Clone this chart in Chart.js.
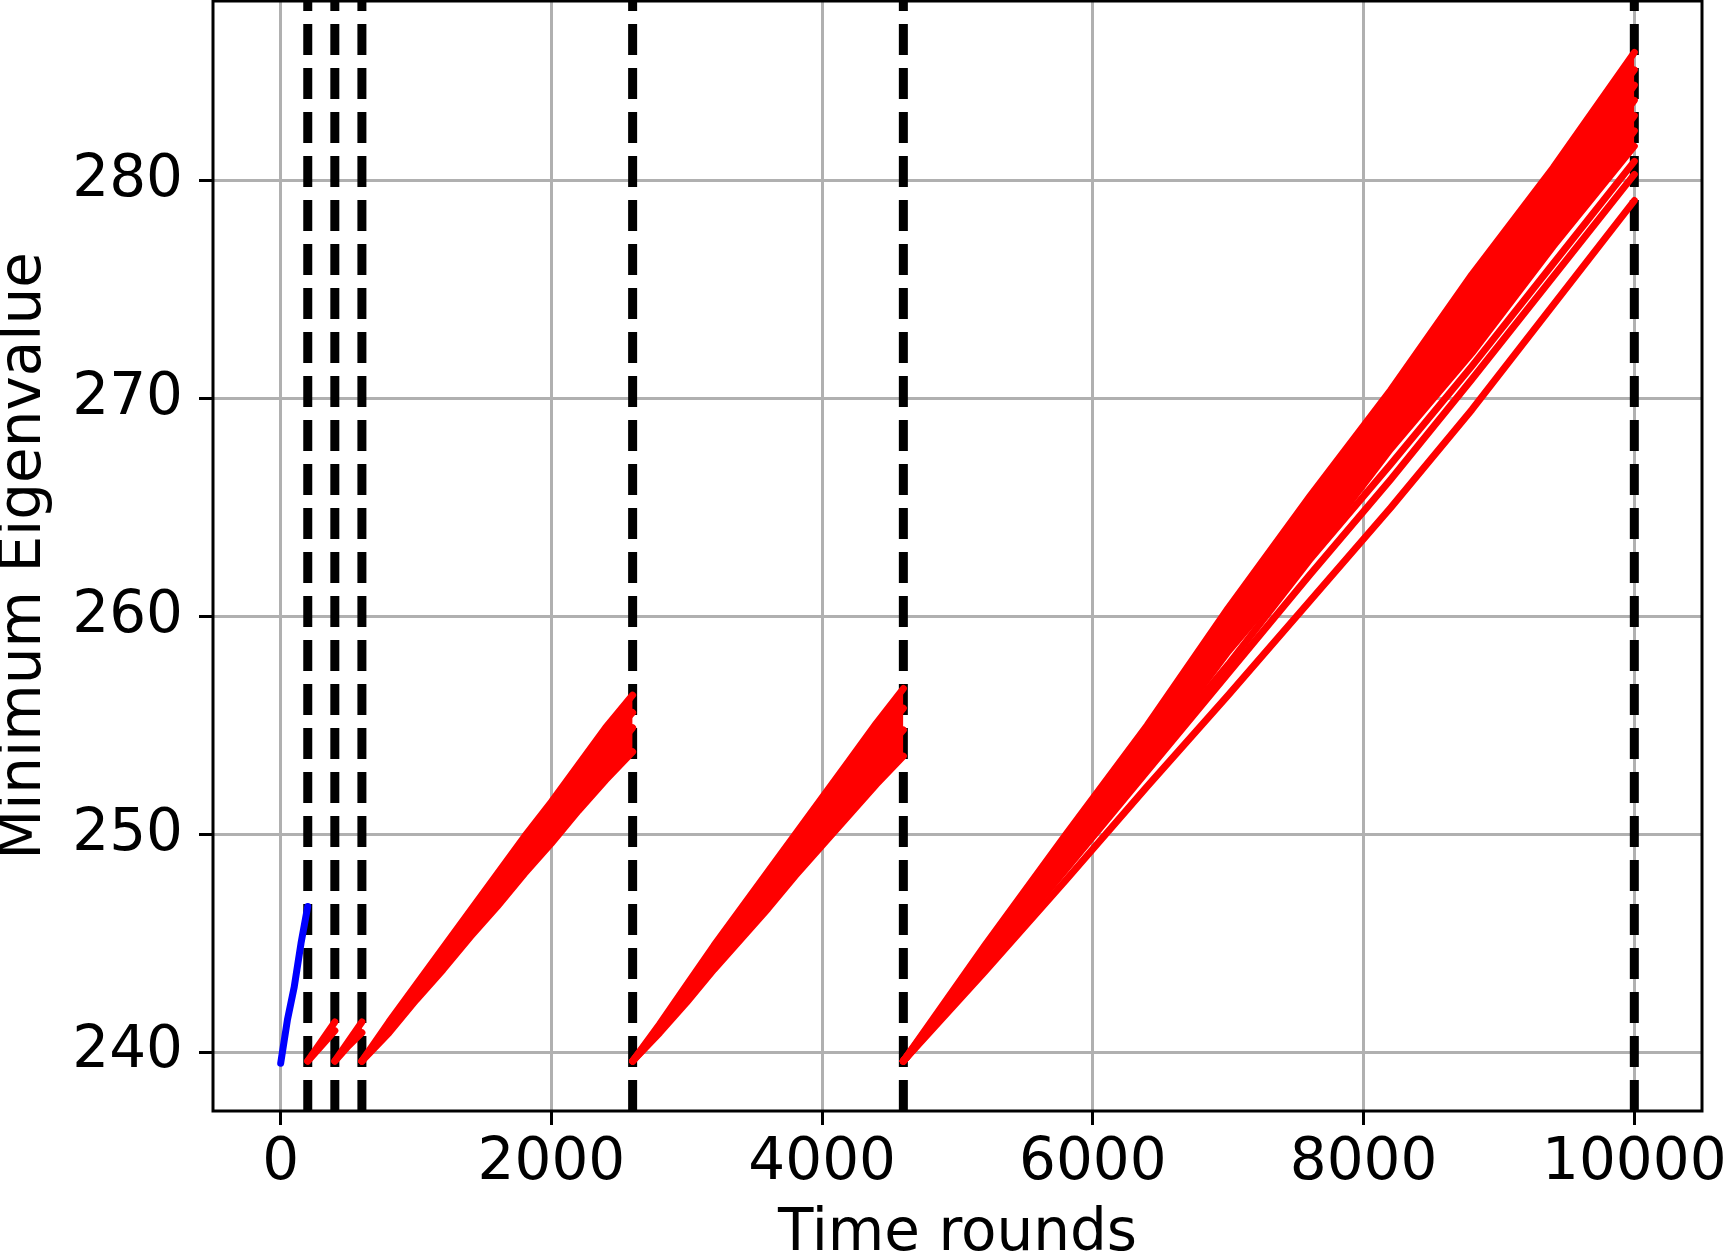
<!DOCTYPE html>
<html>
<head>
<meta charset="UTF-8">
<title>Minimum Eigenvalue</title>
<script src="https://cdn.jsdelivr.net/npm/chart.js@4.4.0/dist/chart.umd.min.js"></script>
<style>
  body { margin: 0; background: #fff; }
  #chart { display: block; }
</style>
</head>
<body>
<canvas id="chart" width="1724" height="1258"></canvas>
<script>
// rounds where a phase ends (dashed lines)
var phaseEnds = [200, 400, 600, 2600, 4600, 10000];
var xTicks = [0, 2000, 4000, 6000, 8000, 10000];
var yTicks = [240, 250, 260, 270, 280];

// first phase, blue
var blueX = [0, 50, 100, 150, 200];
var blueY = [239.5, 241.5, 243.0, 245.0, 246.7];

// later phases, red runs (top run first)
var seg1X = [200, 300, 400];
var seg1Runs = [
  [239.6, 240.5, 241.4],
  [239.6, 240.3, 241.0]
];
var seg2X = [400, 500, 600];
var seg2Runs = [
  [239.6, 240.5, 241.4],
  [239.6, 240.3, 240.9]
];
var seg3X = [600, 800, 1000, 1200, 1400, 1600, 1800, 2000, 2200, 2400, 2600];
var seg3Runs = [
  [239.6, 241.4, 243.1, 244.8, 246.5, 248.2, 249.9, 251.5, 253.2, 254.9, 256.4],
  [239.6, 241.2, 242.9, 244.4, 246.1, 247.7, 249.3, 250.9, 252.5, 254.2, 255.6],
  [239.6, 241.1, 242.6, 244.2, 245.7, 247.3, 248.7, 250.3, 251.9, 253.4, 254.9],
  [239.6, 240.9, 242.4, 243.8, 245.3, 246.7, 248.2, 249.6, 251.1, 252.5, 253.8]
];
var seg4X = [2600, 2800, 3000, 3200, 3400, 3600, 3800, 4000, 4200, 4400, 4600];
var seg4Runs = [
  [239.6, 241.3, 243.1, 244.9, 246.6, 248.3, 250.0, 251.7, 253.4, 255.1, 256.7],
  [239.6, 241.2, 242.8, 244.5, 246.1, 247.7, 249.4, 251.0, 252.6, 254.3, 255.8],
  [239.6, 241.0, 242.6, 244.1, 245.7, 247.2, 248.8, 250.3, 251.9, 253.4, 254.8],
  [239.6, 240.9, 242.3, 243.8, 245.2, 246.6, 248.1, 249.5, 250.9, 252.3, 253.6]
];
var seg5X = [4600, 5200, 5800, 6400, 7000, 7600, 8200, 8800, 9400, 10000];
var seg5Runs = [
  [239.6, 244.9, 250.0, 255.0, 260.4, 265.5, 270.4, 275.7, 280.6, 285.9],
  [239.6, 244.5, 249.8, 254.6, 259.9, 265.0, 269.7, 275.1, 280.2, 285.1],
  [239.6, 244.7, 249.4, 254.6, 259.3, 264.6, 269.4, 274.6, 279.2, 284.4],
  [239.6, 244.3, 249.5, 254.1, 259.3, 263.9, 269.1, 273.7, 278.9, 283.7],
  [239.6, 244.5, 249.0, 254.2, 258.7, 263.8, 268.4, 273.5, 278.0, 283.0],
  [239.6, 244.2, 249.2, 253.7, 258.5, 263.4, 267.9, 272.9, 277.4, 282.3],
  [239.6, 244.1, 249.0, 253.4, 258.4, 262.8, 267.7, 272.1, 277.0, 281.6],
  [239.6, 244.0, 248.7, 253.3, 257.8, 262.6, 267.0, 271.5, 276.2, 280.9],
  [239.6, 243.9, 248.4, 252.9, 257.4, 261.9, 266.3, 270.9, 275.6, 280.3],
  [239.6, 243.7, 247.9, 252.2, 256.4, 260.7, 265.0, 269.5, 274.3, 279.1]
];

var FONT = 'DejaVu Sans';
var LINE_W = 7;
var datasets = [];

function toPoints(xs, ys) {
  return xs.map(function (x, i) { return { x: x, y: ys[i] }; });
}

// runs of one phase; the area between top run and run "bandEnd" is filled
function addSegment(xs, runs, bandEnd) {
  var start = datasets.length;
  runs.forEach(function (ys, i) {
    datasets.push({
      data: toPoints(xs, ys),
      borderColor: 'red',
      backgroundColor: 'red',
      borderWidth: LINE_W,
      fill: i === 0 ? start + bandEnd : false
    });
  });
}

datasets.push({
  data: toPoints(blueX, blueY),
  borderColor: 'blue',
  borderWidth: LINE_W,
  fill: false
});
addSegment(seg1X, seg1Runs, 1);
addSegment(seg2X, seg2Runs, 1);
addSegment(seg3X, seg3Runs, 3);
addSegment(seg4X, seg4Runs, 3);
addSegment(seg5X, seg5Runs, 6);

var phaseLines = {
  id: 'phaseLines',
  beforeDatasetsDraw: function (chart) {
    var ctx = chart.ctx, area = chart.chartArea, xs = chart.scales.x;
    ctx.save();
    ctx.strokeStyle = '#000';
    ctx.lineWidth = 9;
    ctx.setLineDash([31, 13]);
    phaseEnds.forEach(function (v) {
      var px = xs.getPixelForValue(v);
      ctx.beginPath();
      ctx.moveTo(px, area.bottom);
      ctx.lineTo(px, area.top);
      ctx.stroke();
    });
    ctx.restore();
  }
};

var frame = {
  id: 'frame',
  afterDatasetsDraw: function (chart) {
    var ctx = chart.ctx, a = chart.chartArea;
    ctx.save();
    ctx.strokeStyle = '#000';
    ctx.lineWidth = 3;
    ctx.strokeRect(a.left, a.top, a.right - a.left, a.bottom - a.top);
    ctx.restore();
  }
};

new Chart('chart', {
  type: 'line',
  data: { datasets: datasets },
  plugins: [phaseLines, frame],
  options: {
    responsive: false,
    devicePixelRatio: 1,
    animation: false,
    layout: { padding: { left: 0, right: 22, top: 1, bottom: 0 } },
    elements: { point: { radius: 0 }, line: { tension: 0, borderJoinStyle: 'round', borderCapStyle: 'round' } },
    plugins: { legend: { display: false }, tooltip: { enabled: false } },
    scales: {
      x: {
        type: 'linear',
        min: -500,
        max: 10500,
        afterBuildTicks: function (s) { s.ticks = xTicks.map(function (v) { return { value: v }; }); },
        afterFit: function (s) { s.height = 147; s.paddingLeft = 0; s.paddingRight = 0; },
        grid: { color: '#b0b0b0', lineWidth: 3, tickColor: '#000', tickWidth: 3, tickLength: 14 },
        border: { display: false },
        ticks: {
          autoSkip: false, maxRotation: 0, padding: 4, color: '#000',
          font: { family: FONT, size: 58 },
          callback: function (v) { return String(v); }
        },
        title: {
          display: true, text: 'Time rounds', color: '#000',
          font: { family: FONT, size: 58 },
          padding: { top: 0, bottom: -12 }
        }
      },
      y: {
        type: 'linear',
        min: 237.31,
        max: 288.26,
        afterBuildTicks: function (s) { s.ticks = yTicks.map(function (v) { return { value: v }; }); },
        afterFit: function (s) { s.width = 213; s.paddingTop = 0; s.paddingBottom = 0; },
        grid: { color: '#b0b0b0', lineWidth: 3, tickColor: '#000', tickWidth: 3, tickLength: 14 },
        border: { display: false },
        ticks: {
          autoSkip: false, padding: 16, color: '#000',
          font: { family: FONT, size: 58 },
          callback: function (v) { return String(v); }
        },
        title: {
          display: true, text: 'Minimum Eigenvalue', color: '#000',
          font: { family: FONT, size: 58 },
          padding: { top: -10, bottom: 0 }
        }
      }
    }
  }
});
</script>
</body>
</html>
